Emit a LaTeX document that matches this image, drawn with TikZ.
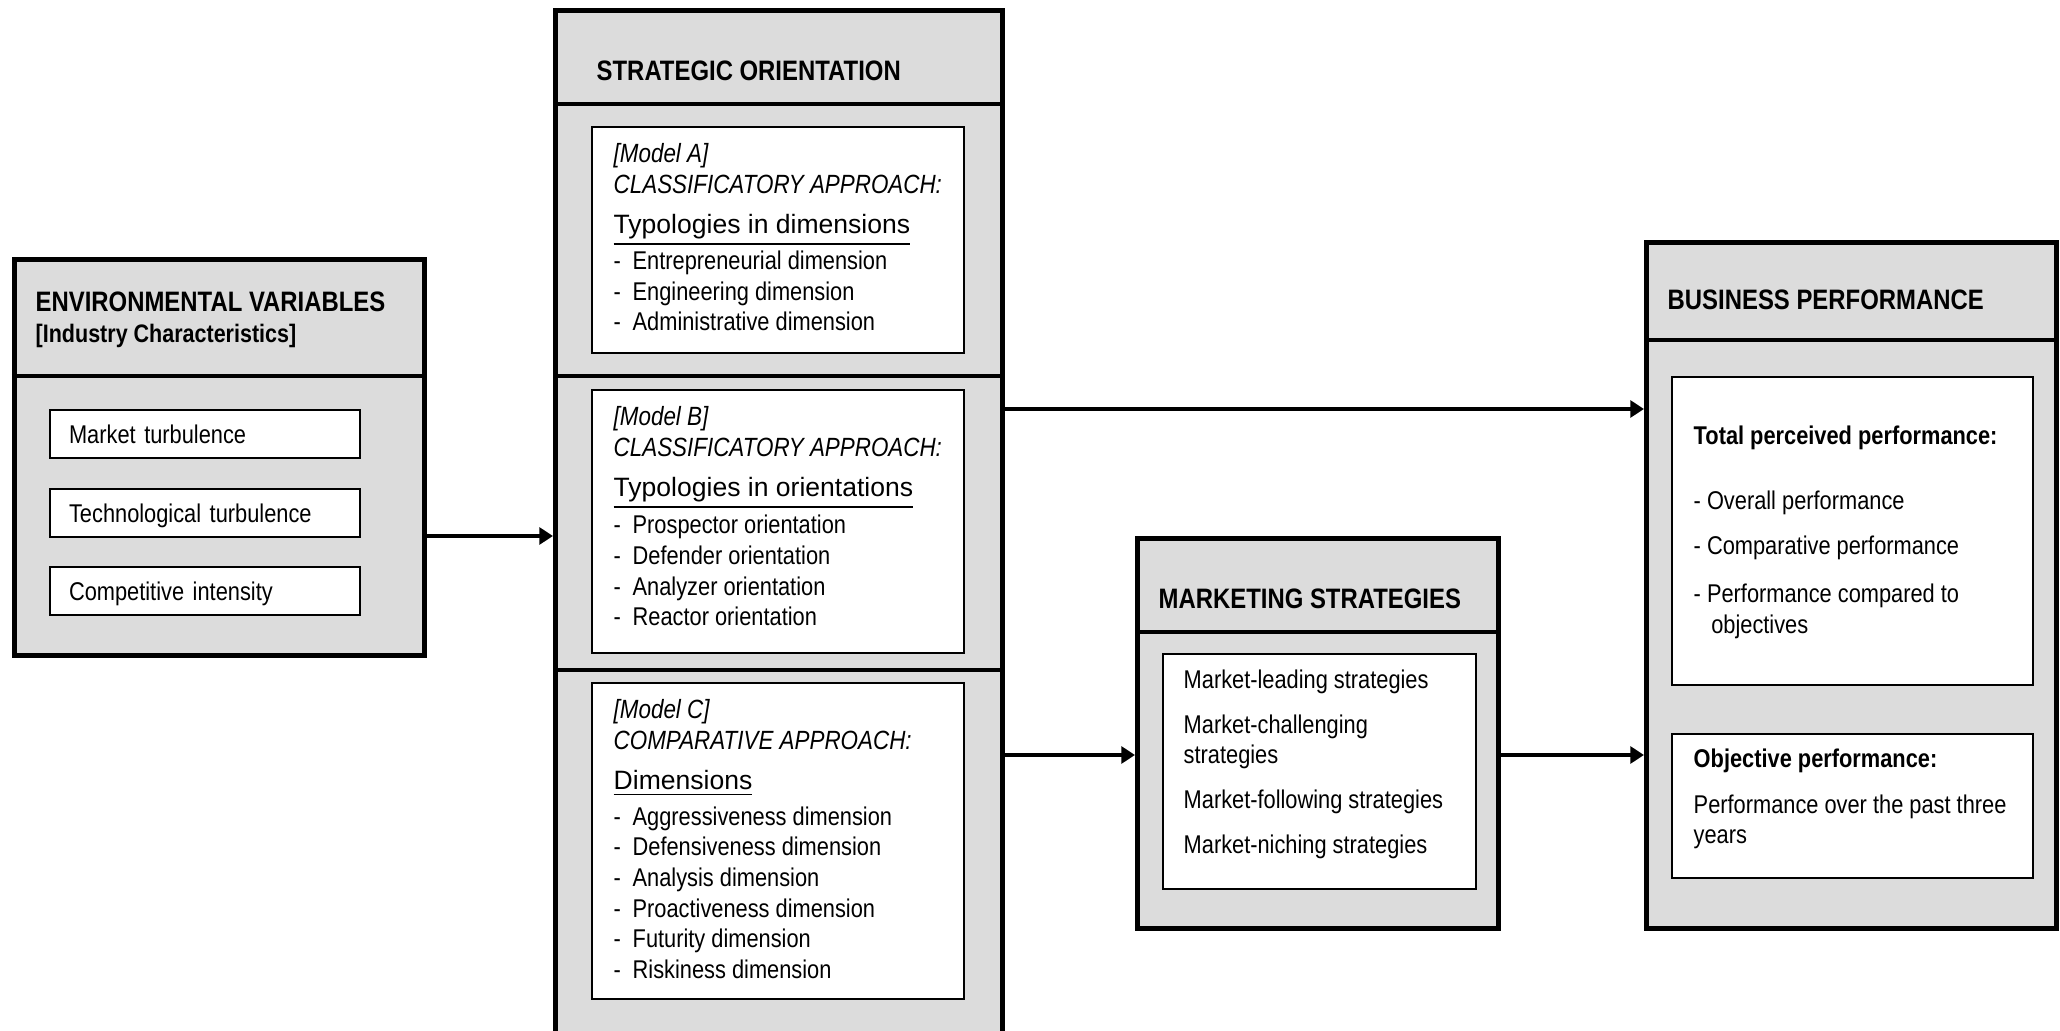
\documentclass[tikz,border=0pt]{standalone}
\usepackage{fontspec}
\setmainfont{Liberation Sans}[FakeStretch=0.85]
\newfontfamily\widefont{Liberation Sans}
\usepackage{xcolor}
\usetikzlibrary{arrows.meta,positioning}

\definecolor{panelgray}{RGB}{220,220,220}

\newcommand{\dashitem}[1]{\makebox[5.4pt][l]{-}#1}
\newcommand{\typo}[1]{{\widefont\fontsize{7.55}{8.7}\selectfont\underline{#1}}}
\newcommand{\modeltag}[1]{{\fontsize{7.5}{8.7}\selectfont\itshape #1}}

\begin{document}
\begin{tikzpicture}[
    >={Triangle[length=3.9pt,width=4.8pt]},
    every node/.style={font=\fontsize{7.3}{8.7}\selectfont},
    panel/.style={draw, line width=1.4pt, fill=panelgray,
        anchor=north west, inner sep=0pt},
    card/.style={draw, line width=0.6pt, fill=white,
        anchor=north west, inner sep=0pt},
    factor/.style={card, minimum height=0.48cm, text width=2.72cm,
        inner xsep=0.19cm, align=left, text height=5.3pt, text depth=0pt},
    heading/.style={anchor=base west, inner sep=0pt,
        font=\fontsize{8}{9.6}\selectfont\bfseries},
    subheading/.style={anchor=base west, inner sep=0pt,
        font=\fontsize{7.2}{8.7}\selectfont\bfseries},
    body/.style={anchor=north west, inner sep=0pt, align=left},
    link/.style={->, line width=1pt}
]

\useasboundingbox (0,0) rectangle (20.60,-10.31);

% Environmental variables
\node[panel, minimum width=4.10cm, minimum height=3.96cm]
    (env) at (0.12,-2.57) {};
\draw[line width=1.4pt]
    ([yshift=-1.19cm]env.north west) -- ([yshift=-1.19cm]env.north east);
\node[heading] (envtitle) at (0.35,-3.12) {ENVIRONMENTAL VARIABLES};
\node[subheading] (envsub) at (0.35,-3.43) {[Industry Characteristics]};

\node[factor] (market) at (0.49,-4.09) {Market turbulence};
\node[factor] (techno) at (0.49,-4.88) {Technological turbulence};
\node[factor] (compet) at (0.49,-5.66) {Competitive intensity};

% Strategic orientation
\node[panel, minimum width=4.47cm, minimum height=10.37cm]
    (so) at (5.53,-0.08) {};
\draw[line width=1.4pt]
    ([yshift=-0.96cm]so.north west) -- ([yshift=-0.96cm]so.north east);
\draw[line width=1.4pt]
    ([yshift=-3.68cm]so.north west) -- ([yshift=-3.68cm]so.north east);
\draw[line width=1.4pt]
    ([yshift=-6.62cm]so.north west) -- ([yshift=-6.62cm]so.north east);
\node[heading] (sotitle) at (5.96,-0.81) {STRATEGIC ORIENTATION};

\node[card, minimum width=3.72cm, minimum height=2.26cm]
    (modA) at (5.91,-1.26) {};
\node[body] (modAtext) at (6.13,-1.43) {%
    \modeltag{[Model A]}\\
    \modeltag{CLASSIFICATORY APPROACH:}\\[2.7pt]
    \typo{Typologies in dimensions}\\[0.4pt]
    \dashitem{Entrepreneurial dimension}\\
    \dashitem{Engineering dimension}\\
    \dashitem{Administrative dimension}};

\node[card, minimum width=3.72cm, minimum height=2.63cm]
    (modB) at (5.91,-3.89) {};
\node[body] (modBtext) at (6.13,-4.06) {%
    \modeltag{[Model B]}\\
    \modeltag{CLASSIFICATORY APPROACH:}\\[2.7pt]
    \typo{Typologies in orientations}\\[0.8pt]
    \dashitem{Prospector orientation}\\
    \dashitem{Defender orientation}\\
    \dashitem{Analyzer orientation}\\
    \dashitem{Reactor orientation}};

\node[card, minimum width=3.72cm, minimum height=3.16cm]
    (modC) at (5.91,-6.82) {};
\node[body] (modCtext) at (6.13,-6.99) {%
    \modeltag{[Model C]}\\
    \modeltag{COMPARATIVE APPROACH:}\\[2.7pt]
    \typo{Dimensions}\\[1.5pt]
    \dashitem{Aggressiveness dimension}\\
    \dashitem{Defensiveness dimension}\\
    \dashitem{Analysis dimension}\\
    \dashitem{Proactiveness dimension}\\
    \dashitem{Futurity dimension}\\
    \dashitem{Riskiness dimension}};

% Marketing strategies
\node[panel, minimum width=3.61cm, minimum height=3.90cm]
    (ms) at (11.35,-5.36) {};
\draw[line width=1.4pt]
    ([yshift=-0.96cm]ms.north west) -- ([yshift=-0.96cm]ms.north east);
\node[heading] (mstitle) at (11.58,-6.09) {MARKETING STRATEGIES};

\node[card, minimum width=3.13cm, minimum height=2.35cm]
    (mscard) at (11.62,-6.53) {};
\node[body] (mstext) at (11.83,-6.69) {%
    Market-leading strategies\\[4.1pt]
    Market-challenging\\
    strategies\\[4.1pt]
    Market-following strategies\\[4.1pt]
    Market-niching strategies};

% Business performance
\node[panel, minimum width=4.10cm, minimum height=6.86cm]
    (bp) at (16.44,-2.40) {};
\draw[line width=1.4pt]
    ([yshift=-1.00cm]bp.north west) -- ([yshift=-1.00cm]bp.north east);
\node[heading] (bptitle) at (16.67,-3.10) {BUSINESS PERFORMANCE};

\node[card, minimum width=3.61cm, minimum height=3.08cm]
    (perceived) at (16.71,-3.76) {};
\node[body] (perctext) at (16.93,-4.25) {%
    {\bfseries Total perceived performance:}\\[9.8pt]
    - Overall performance\\[4.1pt]
    - Comparative performance\\[5pt]
    - Performance compared to\\
    \hspace*{5pt}objectives};

\node[card, minimum width=3.61cm, minimum height=1.44cm]
    (objective) at (16.71,-7.33) {};
\node[body] (objtext) at (16.93,-7.48) {%
    {\bfseries Objective performance:}\\[4.4pt]
    Performance over the past three\\
    years};

% Connectors
\coordinate (envlevel) at (0,-5.36);
\coordinate (upper) at (0,-4.09);
\coordinate (lower) at (0,-7.55);

\draw[link] (env.east |- envlevel) -- (so.west |- envlevel);
\draw[link] (so.east |- upper) -- (bp.west |- upper);
\draw[link] (so.east |- lower) -- (ms.west |- lower);
\draw[link] (ms.east |- lower) -- (bp.west |- lower);

\end{tikzpicture}
\end{document}
